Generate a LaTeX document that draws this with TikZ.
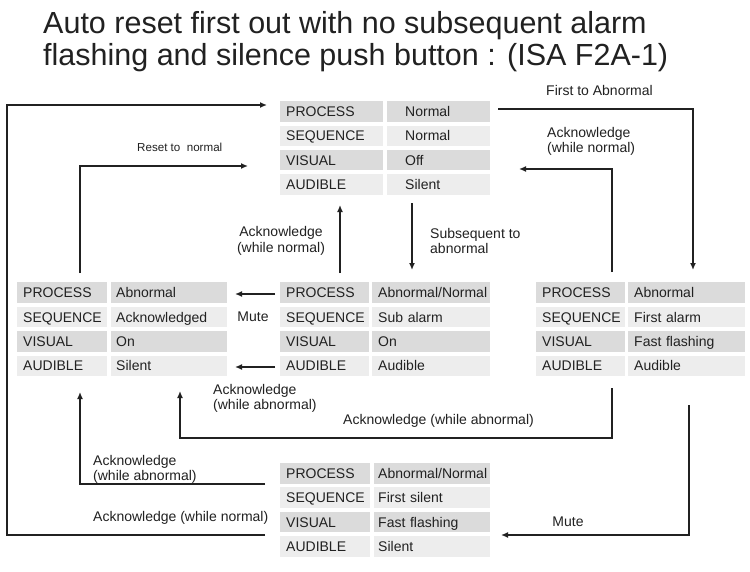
\documentclass[tikz,border=0pt]{standalone}
\usepackage{fontspec}
\setmainfont{Liberation Sans}
\usetikzlibrary{arrows.meta}
\definecolor{rowdark}{gray}{0.86}
\definecolor{rowlight}{gray}{0.93}
\definecolor{ink}{gray}{0.13}
\begin{document}
\begin{tikzpicture}[x=1pt,y=-1pt,
  cell/.style={anchor=west, minimum height=20.5pt, inner ysep=0pt, text height=10pt, text depth=0pt, align=left, font=\fontsize{14}{16}\selectfont, text=ink},
  lbl/.style={font=\fontsize{14}{15.5}\selectfont, text=ink, inner sep=0pt},
  ttl/.style={font=\fontsize{30.5}{31}\selectfont, text=ink, inner sep=0pt, anchor=base west},
  conn/.style={line width=1.4pt, draw=ink},
  arr/.style={conn, -{Latex[length=7pt,width=6pt]}}
]
\useasboundingbox (0,0) rectangle (750,571);
\fill[white] (0,0) rectangle (750,571);

% title
\node[ttl] (title1) at (43,33.5) {Auto reset first out with no subsequent alarm};
\node[ttl] (title2) at (43,65) {flashing and silence push button : (ISA F2A-1)};

% top table
\foreach \lab/\val/\col [count=\i from 0] in {PROCESS/Normal/rowdark, SEQUENCE/Normal/rowlight, VISUAL/Off/rowdark, AUDIBLE/Silent/rowlight}{
  \node[cell, fill=\col, text width=91pt, inner xsep=6pt] (top-l\i) at (280,{111.7+24.2*\i}) {\lab};
  \node[cell, fill=\col, text width=67pt, inner xsep=18pt] (top-v\i) at (387,{111.7+24.2*\i}) {\val};
}
% left table
\foreach \lab/\val/\col [count=\i from 0] in {PROCESS/Abnormal/rowdark, SEQUENCE/Acknowledged/rowlight, VISUAL/On/rowdark, AUDIBLE/Silent/rowlight}{
  \node[cell, fill=\col, text width=78pt, inner xsep=6pt] (lt-l\i) at (17,{292.7+24.4*\i}) {\mbox{\lab}};
  \node[cell, fill=\col, text width=106pt, inner xsep=5pt] (lt-v\i) at (111,{292.7+24.4*\i}) {\val};
}
% center table
\foreach \lab/\val/\col [count=\i from 0] in {PROCESS/{\mbox{Abnormal/Normal}}/rowdark, SEQUENCE/Sub alarm/rowlight, VISUAL/On/rowdark, AUDIBLE/Audible/rowlight}{
  \node[cell, fill=\col, text width=77pt, inner xsep=6pt] (ct-l\i) at (280,{292.7+24.4*\i}) {\mbox{\lab}};
  \node[cell, fill=\col, text width=106pt, inner xsep=6pt] (ct-v\i) at (372,{292.7+24.4*\i}) {\val};
}
% right table
\foreach \lab/\val/\col [count=\i from 0] in {PROCESS/Abnormal/rowdark, SEQUENCE/First alarm/rowlight, VISUAL/Fast flashing/rowdark, AUDIBLE/Audible/rowlight}{
  \node[cell, fill=\col, text width=77pt, inner xsep=6pt] (rt-l\i) at (536,{292.7+24.4*\i}) {\mbox{\lab}};
  \node[cell, fill=\col, text width=105pt, inner xsep=6pt] (rt-v\i) at (628,{292.7+24.4*\i}) {\val};
}
% bottom table
\foreach \lab/\val/\col [count=\i from 0] in {PROCESS/{\mbox{Abnormal/Normal}}/rowdark, SEQUENCE/First silent/rowlight, VISUAL/Fast flashing/rowdark, AUDIBLE/Silent/rowlight}{
  \node[cell, fill=\col, text width=78pt, inner xsep=6pt] (bt-l\i) at (280,{473.3+24.4*\i}) {\mbox{\lab}};
  \node[cell, fill=\col, text width=108pt, inner xsep=4pt] (bt-v\i) at (374,{473.3+24.4*\i}) {\val};
}

% connector end points
\coordinate (o-s) at (265,535);   \coordinate (o-e) at (267,105);
\coordinate (r-s) at (80,273);    \coordinate (r-e) at (248,166);
\coordinate (an-s) at (340,273);  \coordinate (an-e) at (340,205);
\coordinate (sb-s) at (412,203);  \coordinate (sb-e) at (412,270);
\coordinate (fa-s) at (498,109);  \coordinate (fa-e) at (693,270);
\coordinate (ar-s) at (612,272);  \coordinate (ar-e) at (519,169);
\coordinate (m1-s) at (275,294);  \coordinate (m1-e) at (235,294);
\coordinate (m2-s) at (275,367);  \coordinate (m2-e) at (235,367);
\coordinate (aa-s) at (612,388);  \coordinate (aa-e) at (180,391);
\coordinate (mr-s) at (689,405);  \coordinate (mr-e) at (501,535);
\coordinate (lb-s) at (265,484);  \coordinate (lb-e) at (80,392);

% connectors
\draw[arr] (o-s) -- (7,535) |- (o-e);
\draw[arr] (r-s) |- (r-e);
\draw[arr] (an-s) -- (an-e);
\draw[arr] (sb-s) -- (sb-e);
\draw[arr] (fa-s) -| (fa-e);
\draw[arr] (ar-s) |- (ar-e);
\draw[arr] (m1-s) -- (m1-e);
\draw[arr] (m2-s) -- (m2-e);
\draw[arr] (aa-s) -- (612,438) -| (aa-e);
\draw[arr] (mr-s) |- (mr-e);
\draw[arr] (lb-s) -| (lb-e);

% labels
\node[lbl, font=\fontsize{11.6}{13}\selectfont, anchor=mid west] (t-reset) at (137,149) {Reset to~ normal};
\node[lbl, align=center] (t-ackn1) at (281,241) {Acknowledge\\(while normal)};
\node[lbl, align=left, anchor=west] (t-subs) at (430,241) {Subsequent to\\abnormal};
\node[lbl, anchor=mid west] (t-first) at (546,93) {First to Abnormal};
\node[lbl, align=left, anchor=west] (t-ackn2) at (547,141.5) {Acknowledge\\(while normal)};
\node[lbl] (t-mute1) at (253,317) {Mute};
\node[lbl, align=left, anchor=west] (t-acka1) at (213,398.5) {Acknowledge\\(while abnormal)};
\node[lbl, anchor=mid west] (t-acka2) at (343,422) {Acknowledge (while abnormal)};
\node[lbl] (t-mute2) at (568,522) {Mute};
\node[lbl, align=left, anchor=west] (t-acka3) at (93,469.5) {Acknowledge\\(while abnormal)};
\node[lbl, anchor=mid west] (t-ackn3) at (93,519) {Acknowledge (while normal)};
\end{tikzpicture}
\end{document}
